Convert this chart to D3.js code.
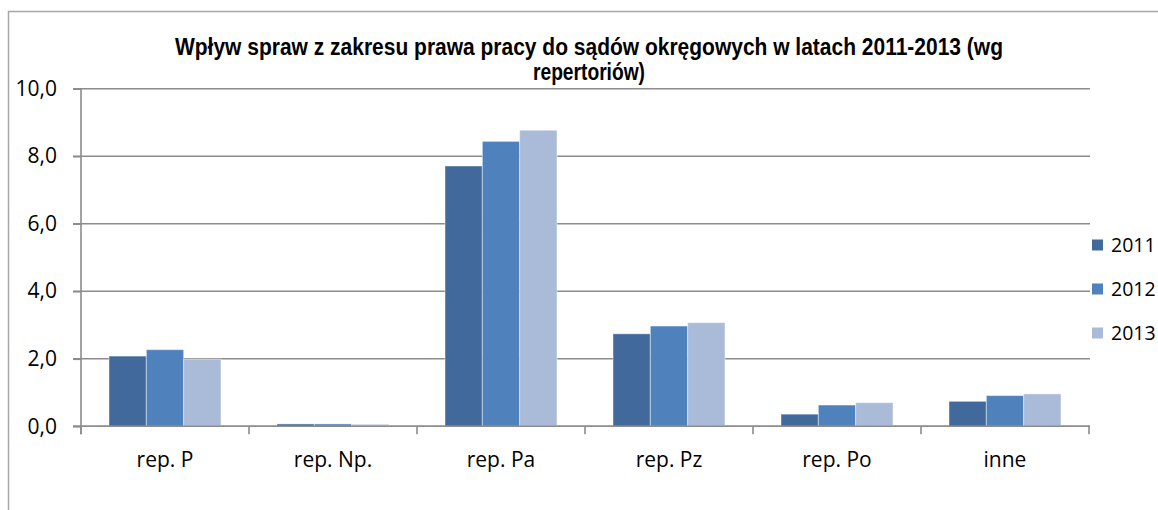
<!DOCTYPE html>
<html>
<head>
<meta charset="utf-8">
<script src="https://cdn.jsdelivr.net/npm/d3@7"></script>
<style>
  body { margin: 0; background: #fff; }
  svg { display: block; }
</style>
</head>
<body>
<svg id="chart" width="1158" height="510"></svg>
<script>
///// *** DATA *** /////
var categories = ['rep. P', 'rep. Np.', 'rep. Pa', 'rep. Pz', 'rep. Po', 'inne'],
    years = ['2011', '2012', '2013'],
    values2011 = [2.08, 0.07, 7.71, 2.74, 0.36, 0.74],
    values2012 = [2.27, 0.07, 8.44, 2.97, 0.63, 0.91],
    values2013 = [1.99, 0.06, 8.77, 3.07, 0.70, 0.96],
    yTicks = [0, 2, 4, 6, 8, 10],
    titleLines = ['Wpływ spraw z zakresu prawa pracy do sądów okręgowych w latach 2011-2013 (wg', 'repertoriów)'];

var seriesValues = [values2011, values2012, values2013],
    colors = ['#41699b', '#4f81bd', '#aabad9'],
    gridColor = '#8c8c8c';

///// *** LAYOUT *** /////
var svg = d3.select('#chart'),
    plotLeft = 81, plotRight = 1089, plotTop = 88.7, plotBottom = 426.3;

var x = d3.scaleBand().domain(categories).range([plotLeft, plotRight]);
var xInner = d3.scaleBand().domain(years)
  .range([x.bandwidth() / 6, x.bandwidth() * 5 / 6]);
var y = d3.scaleLinear().domain([0, 10]).range([plotBottom, plotTop]);

// outer frame
svg.append('rect')
  .attr('x', 8.5).attr('y', 11.5)
  .attr('width', 1300).attr('height', 700)
  .attr('fill', 'none')
  .attr('stroke', '#a6a6a6')
  .attr('stroke-width', 1.5);

// title
svg.append('text')
  .attr('x', 589).attr('y', 55)
  .attr('text-anchor', 'middle')
  .attr('font-family', 'Liberation Sans, Arial, sans-serif')
  .attr('font-weight', 'bold')
  .attr('font-size', 23)
  .attr('textLength', 828)
  .attr('lengthAdjust', 'spacingAndGlyphs')
  .text(titleLines[0]);
svg.append('text')
  .attr('x', 589).attr('y', 80)
  .attr('text-anchor', 'middle')
  .attr('font-family', 'Liberation Sans, Arial, sans-serif')
  .attr('font-weight', 'bold')
  .attr('font-size', 23)
  .attr('textLength', 112)
  .attr('lengthAdjust', 'spacingAndGlyphs')
  .text(titleLines[1]);

// gridlines
svg.append('g').selectAll('line')
  .data(yTicks)
  .enter().append('line')
  .attr('x1', plotLeft - 8).attr('x2', plotRight + 1)
  .attr('y1', function(d) { return y(d); })
  .attr('y2', function(d) { return y(d); })
  .attr('stroke', gridColor)
  .attr('stroke-width', 1.6);

// bars
var groups = svg.append('g').selectAll('g')
  .data(categories)
  .enter().append('g')
  .attr('transform', function(d) { return 'translate(' + x(d) + ',0)'; });

groups.selectAll('rect')
  .data(function(d, i) {
    return years.map(function(yr, j) { return { year: yr, value: seriesValues[j][i], idx: j }; });
  })
  .enter().append('rect')
  .attr('x', function(d) { return xInner(d.year); })
  .attr('width', xInner.bandwidth())
  .attr('y', function(d) { return y(d.value); })
  .attr('height', function(d) { return y(0) - y(d.value); })
  .attr('fill', function(d) { return colors[d.idx]; })
  .attr('stroke', 'rgba(255,255,255,0.45)')
  .attr('stroke-width', 1);

// baseline on top of bars
svg.append('line')
  .attr('x1', plotLeft - 8).attr('x2', plotRight + 1)
  .attr('y1', y(0)).attr('y2', y(0))
  .attr('stroke', gridColor).attr('stroke-width', 1.6);

// y axis
var yAxis = svg.append('g')
  .attr('transform', 'translate(' + plotLeft + ',0)')
  .call(d3.axisLeft(y)
    .tickValues(yTicks)
    .tickSize(8)
    .tickPadding(16)
    .tickFormat(function(d) { return d3.format('.1f')(d).replace('.', ','); }));
yAxis.select('.domain')
  .attr('d', 'M0,' + plotTop + 'V' + (plotBottom + 8))
  .attr('stroke', gridColor).attr('stroke-width', 1.6);
yAxis.selectAll('.tick line').attr('stroke', gridColor).attr('stroke-width', 1.6);
yAxis.selectAll('.tick text')
  .attr('font-family', 'Open Sans, sans-serif')
  .attr('font-size', 21)
  .attr('fill', '#000');

// x axis ticks at category edges
var edges = categories.map(function(c) { return x(c); }).concat([plotRight]);
svg.append('g').selectAll('line')
  .data(edges)
  .enter().append('line')
  .attr('x1', function(d) { return d; })
  .attr('x2', function(d) { return d; })
  .attr('y1', plotBottom).attr('y2', plotBottom + 8)
  .attr('stroke', gridColor).attr('stroke-width', 1.6);

// x labels
svg.append('g').selectAll('text')
  .data(categories)
  .enter().append('text')
  .attr('x', function(d) { return x(d) + x.bandwidth() / 2; })
  .attr('y', 467)
  .attr('text-anchor', 'middle')
  .attr('font-family', 'Open Sans, sans-serif')
  .attr('font-size', 21)
  .attr('fill', '#000')
  .text(function(d) { return d; });

// legend
var legend = svg.append('g').selectAll('g')
  .data(years)
  .enter().append('g')
  .attr('transform', function(d, i) { return 'translate(1092,' + (239.5 + i * 44) + ')'; });
legend.append('rect')
  .attr('width', 11).attr('height', 11)
  .attr('fill', function(d, i) { return colors[i]; });
legend.append('text')
  .attr('x', 19).attr('y', 12)
  .attr('font-family', 'Open Sans, sans-serif')
  .attr('font-size', 19.5)
  .attr('fill', '#000')
  .text(function(d) { return d; });
</script>
</body>
</html>
